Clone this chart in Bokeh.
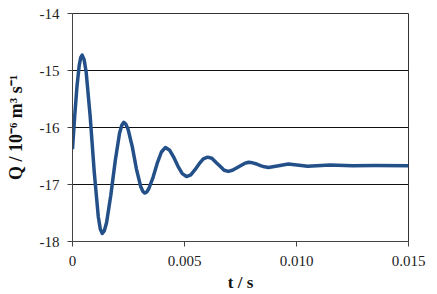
from bokeh.plotting import figure
from bokeh.models import FixedTicker, Range1d
from bokeh.embed import file_html
from bokeh.resources import INLINE

# ---- data ----
t_s = [0.0, 0.0001, 0.0002, 0.0003, 0.00037, 0.00043, 0.00052,
       0.00061, 0.00079, 0.00097, 0.00115, 0.00124, 0.00133, 0.00142,
       0.00152, 0.00171, 0.00191, 0.0021, 0.0022, 0.00229, 0.00238,
       0.00248, 0.00267, 0.00285, 0.00304, 0.00314, 0.00323, 0.00332,
       0.00341, 0.0036, 0.00378, 0.00397, 0.00415,
       0.00434, 0.00453, 0.00471, 0.0049, 0.00509,
       0.00528, 0.00547, 0.00565, 0.00584, 0.00603,
       0.00622, 0.0064, 0.00659, 0.00677, 0.00696,
       0.00714, 0.00732, 0.0075, 0.00768, 0.00786,
       0.00804, 0.00822, 0.00839, 0.00857, 0.00875,
       0.0092, 0.00964, 0.0105, 0.0115, 0.0125, 0.0135, 0.015]
q_vals = [-16.38, -15.79, -15.28, -14.91, -14.77, -14.73, -14.81,
          -15.03, -15.81, -16.78, -17.56, -17.78, -17.86, -17.81,
          -17.67, -17.19, -16.58, -16.10, -15.96, -15.91, -15.94,
          -16.03, -16.34, -16.72, -17.03, -17.12, -17.15, -17.13,
          -17.07, -16.87, -16.63, -16.43, -16.35,
          -16.40, -16.53, -16.68, -16.81, -16.86,
          -16.83, -16.74, -16.64, -16.55, -16.52,
          -16.54, -16.61, -16.68, -16.75, -16.77,
          -16.75, -16.71, -16.67, -16.63, -16.61,
          -16.62, -16.64, -16.67, -16.69, -16.70,
          -16.67, -16.64, -16.68, -16.66, -16.67, -16.665, -16.67]

x_ticks = [0.0, 0.005, 0.010, 0.015]
x_tick_labels = ["0", "0.005", "0.010", "0.015"]
y_ticks = [-18, -17, -16, -15, -14]
y_tick_labels = ["-18", "-17", "-16", "-15", "-14"]
x_title = "t / s"
y_title = "Q / 10\u207b\u2076 m\u00b3 s\u207b\u00b9"

FONT = "Liberation Serif"

p = figure(width=437, height=294, output_backend="svg", toolbar_location=None,
           x_range=Range1d(0, 0.015), y_range=Range1d(-18, -14),
           min_border_left=72, min_border_right=29, min_border_top=13,
           min_border_bottom=51)
p.background_fill_color = "white"
p.border_fill_color = "white"
p.outline_line_color = "#333333"
p.outline_line_width = 1

p.xaxis.ticker = FixedTicker(ticks=x_ticks)
p.xaxis.major_label_overrides = {v: s for v, s in zip(x_ticks, x_tick_labels)}
p.yaxis.ticker = FixedTicker(ticks=y_ticks)
p.yaxis.major_label_overrides = {v: s for v, s in zip(y_ticks, y_tick_labels)}

for ax in (p.xaxis, p.yaxis):
    ax.minor_tick_line_color = None
    ax.major_tick_in = 0
    ax.major_tick_out = 5
    ax.axis_line_color = "#444444"
    ax.major_tick_line_color = "#444444"
    ax.major_label_text_font = FONT
    ax.major_label_text_font_size = "15px"
    ax.major_label_text_color = "#222222"
    ax.major_label_standoff = 8
    ax.axis_label_text_font = FONT
    ax.axis_label_text_font_style = "bold"
    ax.axis_label_text_color = "#111111"
p.xaxis.major_label_standoff = 9

p.xaxis.axis_label = x_title
p.xaxis.axis_label_text_font_size = "17px"
p.xaxis.axis_label_standoff = 4
p.yaxis.axis_label = y_title
p.yaxis.axis_label_text_font_size = "18px"
p.yaxis.axis_label_standoff = 11

p.xgrid.grid_line_color = None
p.ygrid.grid_line_color = "#111111"
p.ygrid.grid_line_width = 1

p.line(x=t_s, y=q_vals, line_color="#235088", line_width=3.5, line_join="round")

open("out.html", "w").write(file_html(p, INLINE))
